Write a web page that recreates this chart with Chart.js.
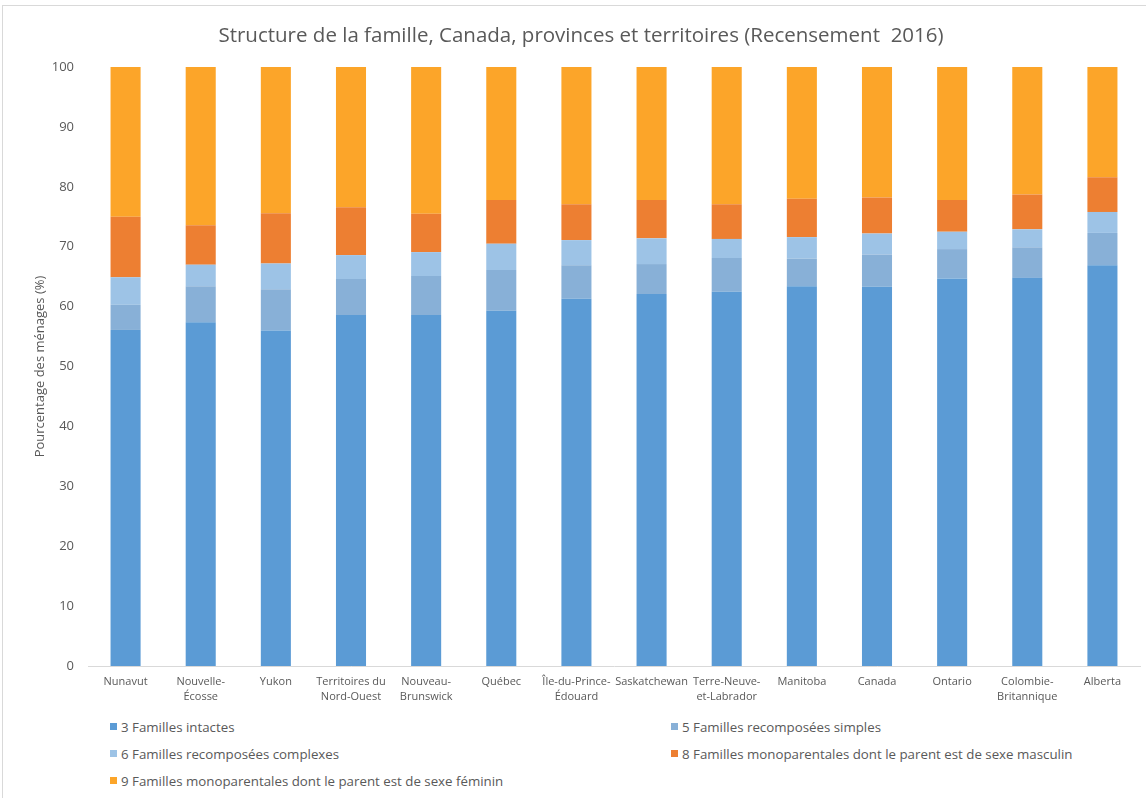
<!DOCTYPE html>
<html lang="fr">
<head>
<meta charset="utf-8">
<title>Structure de la famille</title>
<script src="https://cdn.jsdelivr.net/npm/chart.js@4.4.1/dist/chart.umd.min.js"></script>
<style>
  html, body { margin: 0; padding: 0; background: #fff; }
  body { width: 1146px; height: 798px; position: relative; overflow: hidden; }
  #frame { position: absolute; left: 2px; top: 5px; width: 1200px; height: 900px; border: 1px solid #d9d9d9; box-sizing: border-box; }
  #chart { position: absolute; left: 0; top: 0; }
  #legend { position: absolute; left: 110px; top: 717px; width: 1030px;
            display: grid; grid-template-columns: 561px 460px; row-gap: 8px;
            font-family: 'Open Sans', sans-serif; font-size: 13.3px; color: #595959; }
  #legend .item { display: flex; align-items: center; height: 19px; white-space: nowrap; }
  #legend .box { width: 7px; height: 7px; margin-right: 4px; flex: none; }
</style>
</head>
<body>
<div id="frame"></div>
<canvas id="chart" width="1146" height="712"></canvas>
<div id="legend"></div>
<script>
(function () {
  'use strict';

  var regions = [
    'Nunavut', ['Nouvelle-', 'Écosse'], 'Yukon', ['Territoires du', 'Nord-Ouest'],
    ['Nouveau-', 'Brunswick'], 'Québec', ['Île-du-Prince-', 'Édouard'], 'Saskatchewan',
    ['Terre-Neuve-', 'et-Labrador'], 'Manitoba', 'Canada', 'Ontario',
    ['Colombie-', 'Britannique'], 'Alberta'
  ];

  // part des ménages (%) par type de famille
  var intactes    = [56.1, 57.4, 56.0, 58.6, 58.6, 59.3, 61.3, 62.1, 62.5, 63.4, 63.3, 64.7, 64.8, 66.9];
  var recSimples  = [4.2, 6.0, 6.9, 6.0, 6.5, 6.8, 5.6, 5.0, 5.6, 4.6, 5.4, 4.9, 5.1, 5.4];
  var recComplexes = [4.6, 3.6, 4.3, 4.0, 4.0, 4.4, 4.2, 4.3, 3.2, 3.6, 3.5, 2.9, 3.0, 3.5];
  var monoMasc    = [10.1, 6.6, 8.4, 8.0, 6.4, 7.3, 6.0, 6.4, 5.8, 6.4, 6.0, 5.3, 5.8, 5.8];
  var monoFem     = [25.0, 26.4, 24.4, 23.4, 24.5, 22.2, 22.9, 22.2, 22.9, 22.0, 21.8, 22.2, 21.3, 18.4];

  var yTicks = [0, 10, 20, 30, 40, 50, 60, 70, 80, 90, 100];

  var grey = '#595959';
  var font = "'Open Sans', sans-serif";

  var series = [
    { label: '3 Familles intactes', data: intactes, color: '#5b9bd5' },
    { label: '5 Familles recomposées simples', data: recSimples, color: '#88b0d7' },
    { label: '6 Familles recomposées complexes', data: recComplexes, color: '#9dc3e6' },
    { label: '8 Familles monoparentales dont le parent est de sexe masculin', data: monoMasc, color: '#ed7f32' },
    { label: '9 Familles monoparentales dont le parent est de sexe féminin', data: monoFem, color: '#fca529' }
  ];

  var chart = new Chart(document.getElementById('chart'), {
    type: 'bar',
    data: {
      labels: regions,
      datasets: series.map(function (s) {
        return {
          label: s.label,
          data: s.data,
          backgroundColor: s.color,
          borderWidth: 0,
          categoryPercentage: 1,
          barPercentage: 0.4
        };
      })
    },
    options: {
      responsive: false,
      animation: false,
      layout: { padding: { left: 22, right: 6, top: 0, bottom: 0 } },
      plugins: {
        legend: { display: false },
        tooltip: { enabled: false },
        title: {
          display: true,
          text: 'Structure de la famille, Canada, provinces et territoires (Recensement  2016)',
          color: grey,
          font: { family: font, size: 20.5, weight: 'normal' },
          padding: { top: 24, bottom: 18.4 }
        }
      },
      scales: {
        x: {
          stacked: true,
          grid: { display: false, drawTicks: false },
          border: { display: true, color: '#d9d9d9' },
          ticks: {
            color: grey,
            font: { family: font, size: 11, lineHeight: 1.3 },
            padding: 9,
            maxRotation: 0,
            autoSkip: false
          },
          afterFit: function (scale) { scale.height = 46; }
        },
        y: {
          stacked: true,
          min: 0,
          max: 100,
          grid: { display: false, drawTicks: false },
          border: { display: false },
          afterBuildTicks: function (scale) {
            scale.ticks = yTicks.map(function (v) { return { value: v }; });
          },
          ticks: {
            color: grey,
            font: { family: font, size: 13 },
            padding: 14
          },
          title: {
            display: true,
            text: 'Pourcentage des ménages (%)',
            color: grey,
            font: { family: font, size: 13 },
            padding: { top: 10, bottom: 0 }
          },
          afterFit: function (scale) { scale.width = 66; }
        }
      }
    }
  });

  // légende en deux colonnes sous le graphique
  var legend = document.getElementById('legend');
  chart.data.datasets.forEach(function (ds) {
    var item = document.createElement('div');
    item.className = 'item';
    var box = document.createElement('span');
    box.className = 'box';
    box.style.background = ds.backgroundColor;
    var txt = document.createElement('span');
    txt.textContent = ds.label;
    item.appendChild(box);
    item.appendChild(txt);
    legend.appendChild(item);
  });
})();
</script>
</body>
</html>
